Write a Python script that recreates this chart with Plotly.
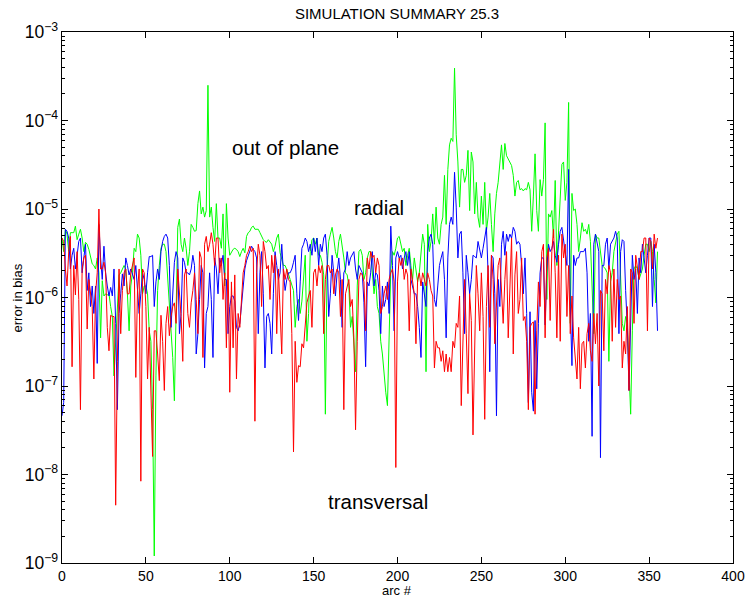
import math
import plotly.graph_objects as go

# arc numbers
arcs = list(range(356))

# radial error in bias (blue)
radial = [
    4.6e-8, 6.5e-8, 5.9e-6, 5.6e-6, 4.7e-6, 2.1e-6, 3.0e-6, 3.6e-6, 2.1e-6, 3.3e-6,
    4.3e-6, 4.7e-6, 1.9e-6, 2.8e-6, 4.0e-6, 1.2e-6, 1.9e-6, 7.9e-7, 1.35e-6, 6.6e-7,
    1.35e-6, 1.8e-7, 6.7e-6, 2.8e-6, 1.6e-6, 3.8e-6, 1.9e-6, 1.35e-6, 1.04e-6, 1.3e-6,
    1.04e-6, 2.1e-6, 5.1e-7, 5.4e-8, 6.6e-7, 1.1e-6, 1.85e-6, 1.35e-6, 2.8e-6, 2.3e-6,
    1.8e-6, 2.1e-6, 1.85e-6, 1.6e-6, 2.3e-6, 1.35e-6, 6.6e-7, 1.1e-6, 1.9e-6, 1.6e-6,
    1.1e-6, 1.9e-6, 2.9e-6, 2.9e-6, 3.0e-6, 7.9e-7, 1.5e-6, 2.1e-6, 1.6e-6, 3.3e-6,
    4.3e-6, 4.9e-6, 5.2e-6, 4.7e-6, 2.3e-6, 4.6e-7, 1.1e-6, 2.5e-6, 3.3e-6, 2.8e-6,
    3.9e-7, 6.6e-7, 2.8e-6, 2.5e-6, 1.9e-6, 1.9e-6, 1.8e-6, 2.1e-6, 3.0e-6, 2.3e-6,
    2.3e-7, 3.9e-7, 9.5e-7, 2.3e-6, 1.9e-6, 1.6e-7, 6.6e-7, 7.9e-7, 1.9e-6, 9.5e-7,
    2.1e-7, 2.8e-6, 2.1e-6, 1.1e-6, 2.8e-6, 2.3e-6, 3.0e-6, 1.6e-6, 1.6e-6, 3.9e-7,
    7.9e-7, 1.04e-6, 1.04e-6, 9.1e-7, 4.6e-7, 4.2e-7, 5.1e-7, 8.7e-7, 1.5e-6, 2.1e-6,
    2.6e-6, 3.0e-6, 3.5e-6, 3.8e-6, 3.5e-6, 3.3e-6, 2.8e-6, 3.9e-7, 1.9e-6, 3.3e-6,
    1.1e-6, 1.6e-7, 6.1e-7, 6.6e-7, 5.1e-7, 2.3e-7, 1.1e-6, 3.3e-6, 2.3e-6, 1.6e-6,
    1.9e-6, 4.0e-6, 1.9e-6, 1.2e-6, 1.6e-6, 1.9e-6, 1.9e-6, 2.1e-6, 2.5e-6, 3.0e-6,
    1.1e-6, 5.5e-7, 1.5e-6, 3.6e-6, 4.0e-6, 4.7e-6, 4.3e-6, 3.3e-6, 4.0e-6, 3.0e-6,
    4.7e-6, 3.3e-6, 4.7e-6, 2.3e-6, 4.0e-6, 3.3e-6, 4.7e-6, 5.2e-6, 3.0e-6, 6.1e-7,
    1.1e-6, 3.0e-6, 1.9e-6, 1.04e-6, 1.9e-6, 2.8e-6, 1.6e-6, 4.6e-7, 1.9e-6, 2.1e-6,
    3.3e-6, 2.3e-6, 2.8e-6, 3.0e-6, 3.3e-6, 2.1e-6, 1.6e-6, 2.3e-6, 2.1e-6, 1.9e-6,
    8.7e-7, 1.65e-7, 1.5e-6, 1.35e-6, 1.9e-6, 3.3e-6, 1.35e-6, 1.9e-6, 1.8e-6, 1.2e-6,
    3.9e-7, 1.35e-6, 7.9e-7, 9.5e-7, 1.5e-6, 6.6e-7, 6.4e-6, 2.3e-6, 4.2e-7, 2.8e-6,
    3.3e-6, 2.8e-6, 3.0e-6, 2.1e-6, 2.8e-6, 3.3e-6, 2.3e-6, 3.3e-6, 1.6e-6, 1.35e-6,
    1.1e-6, 1.1e-6, 7.9e-7, 4.6e-7, 2.1e-7, 1.5e-6, 1.04e-6, 7.9e-7, 3.3e-6, 4.7e-6,
    5.2e-6, 4.0e-6, 9.5e-7, 7.9e-7, 1.35e-6, 2.3e-6, 2.8e-6, 3.3e-6, 1.6e-6, 3.5e-7,
    2.8e-6, 6.7e-6, 8.1e-6, 6.7e-6, 2.6e-5, 1.05e-5, 2.8e-6, 5.2e-6, 5.6e-6, 1.9e-6,
    3.9e-7, 3.0e-6, 1.9e-6, 1.1e-6, 1.6e-6, 3.0e-6, 2.9e-6, 2.8e-6, 4.3e-6, 3.3e-6,
    2.8e-6, 3.6e-6, 4.7e-6, 6.2e-6, 1.9e-6, 1.45e-7, 3.0e-6, 2.8e-6, 1.1e-6, 4.6e-8,
    1.6e-6, 7.9e-7, 4.0e-6, 5.6e-6, 3.0e-6, 5.2e-6, 4.3e-6, 5.2e-6, 4.7e-6, 6.2e-6,
    5.6e-6, 4.0e-6, 4.3e-6, 4.0e-6, 2.3e-6, 1.1e-6, 2.8e-6, 6.6e-7, 6.5e-8, 6.9e-7,
    8.5e-8, 5.2e-8, 5.5e-7, 9.3e-8, 5.1e-7, 1.9e-6, 2.8e-6, 2.8e-6, 4.9e-7, 2.1e-6,
    4.0e-6, 3.3e-6, 3.6e-6, 4.3e-6, 3.0e-6, 2.5e-6, 4.0e-6, 5.6e-6, 6.2e-6, 4.3e-6,
    3.3e-6, 2.3e-6, 2.8e-5, 7.9e-7, 1.7e-7, 3.0e-6, 2.3e-6, 2.8e-6, 2.8e-6, 3.3e-6,
    3.3e-6, 3.3e-6, 3.6e-6, 1.9e-6, 3.2e-7, 6.6e-7, 2.7e-8, 4.0e-6, 5.2e-6, 4.0e-6,
    3.3e-6, 1.55e-8, 2.3e-6, 2.3e-6, 4.0e-6, 4.7e-6, 2.1e-6, 4.0e-6, 4.3e-6, 4.7e-6,
    5.6e-6, 4.7e-6, 3.9e-7, 3.3e-6, 4.5e-6, 4.3e-6, 1.2e-6, 4.6e-7, 8.9e-8, 5.1e-7,
    3.0e-6, 1.6e-6, 2.1e-6, 6.6e-7, 2.8e-6, 1.9e-6, 4.0e-6, 2.8e-6, 1.9e-6, 3.0e-6,
    4.7e-6, 4.7e-6, 7.9e-7, 4.0e-6, 1.9e-6, 4.2e-7,
]

# out of plane error in bias (green)
out_of_plane = [
    4.7e-6, 3.3e-6, 5.9e-6, 5.2e-6, 3.3e-6, 5.4e-6, 5.4e-6, 5.4e-6, 6.4e-6, 4.5e-6,
    5.2e-6, 5.9e-6, 4.7e-6, 3.3e-6, 4.2e-6, 4.0e-6, 3.5e-6, 3.0e-6, 2.4e-6, 2.3e-6,
    2.1e-6, 2.8e-6, 1.9e-6, 3.5e-7, 1.55e-6, 1.04e-6, 1.1e-6, 1.07e-6, 1.1e-6, 7.9e-7,
    6.1e-7, 1.3e-7, 3.2e-7, 9.5e-7, 1.8e-6, 1.9e-6, 2.1e-6, 2.3e-6, 2.1e-6, 1.1e-6,
    4.2e-7, 1.35e-6, 1.9e-6, 3.6e-6, 3.3e-6, 5.2e-6, 4.7e-6, 3.0e-6, 1.1e-6, 1.35e-6,
    1.35e-6, 1.1e-6, 4.2e-7, 3.2e-7, 5.4e-8, 1.2e-9, 1.3e-7, 1.2e-6, 2.3e-6, 3.6e-6,
    4.0e-6, 4.0e-6, 3.3e-6, 1.6e-6, 8.7e-7, 3.9e-7, 2.1e-7, 6.8e-8, 7.9e-7, 6.2e-6,
    7.7e-6, 4.0e-6, 3.3e-6, 4.7e-6, 3.6e-6, 2.3e-6, 3.3e-6, 6.7e-6, 6.2e-6, 5.6e-6,
    5.7e-6, 1.15e-5, 1.6e-5, 8.8e-6, 1.05e-5, 8.1e-6, 9.6e-6, 2.5e-4, 8.1e-6, 1.05e-5,
    6.2e-6, 4.3e-6, 1.15e-5, 4.7e-6, 4.7e-6, 3.6e-6, 8.8e-6, 1.35e-6, 1.15e-5, 4.7e-6,
    3.0e-6, 3.3e-6, 3.5e-6, 3.6e-6, 3.5e-6, 3.3e-6, 2.9e-6, 3.3e-6, 3.6e-6, 3.2e-6,
    4.9e-6, 5.4e-6, 5.6e-6, 6.2e-6, 6.4e-6, 5.9e-6, 5.9e-6, 5.9e-6, 5.4e-6, 4.9e-6,
    4.5e-6, 4.3e-6, 4.2e-6, 4.5e-6, 4.3e-6, 4.0e-6, 3.3e-6, 3.8e-6, 4.7e-6, 5.2e-6,
    3.2e-6, 2.6e-6, 2.3e-6, 2.3e-6, 2.1e-6, 1.85e-6, 1.6e-6, 1.4e-6, 1.2e-6, 4.6e-7,
    7.9e-7, 9.5e-7, 6.6e-7, 9.1e-7, 1.5e-6, 3.0e-6, 3.2e-7, 6.6e-7, 3.3e-6, 4.5e-6,
    4.7e-6, 4.0e-6, 4.7e-6, 3.0e-6, 3.0e-6, 2.5e-6, 1.8e-6, 4.8e-8, 2.1e-6, 4.3e-6,
    5.2e-6, 6.2e-6, 4.7e-6, 3.3e-6, 2.8e-6, 4.3e-6, 5.2e-6, 4.0e-6, 2.8e-6, 1.9e-6,
    1.8e-6, 1.35e-6, 4.6e-7, 6.1e-7, 2.7e-7, 1.45e-7, 1.35e-6, 3.3e-6, 3.5e-6, 3.0e-6,
    1.6e-6, 1.9e-6, 2.8e-6, 3.3e-6, 3.3e-6, 2.1e-6, 1.1e-6, 1.6e-6, 7.9e-7, 6.6e-7,
    3.2e-7, 2.3e-7, 1.3e-7, 8.5e-8, 6.0e-8, 3.2e-7, 2.1e-6, 3.3e-6, 3.0e-6, 3.6e-6,
    4.7e-6, 4.9e-6, 4.0e-6, 3.3e-6, 3.6e-6, 2.3e-6, 3.0e-6, 3.6e-6, 2.3e-6, 1.6e-6,
    2.8e-6, 2.1e-6, 1.5e-6, 1.9e-6, 3.3e-6, 5.2e-6, 4.0e-6, 1.45e-7, 6.7e-6, 3.3e-6,
    4.3e-6, 8.8e-6, 4.0e-6, 1.05e-5, 4.7e-6, 4.0e-6, 6.7e-6, 8.1e-6, 2.4e-5, 6.7e-6,
    2.8e-5, 5.3e-5, 6.3e-5, 5.8e-5, 3.9e-4, 6.9e-5, 3.4e-5, 1.05e-5, 2.8e-5, 2.8e-5,
    2.0e-5, 2.4e-5, 4.6e-5, 9.6e-6, 4.4e-5, 3.4e-5, 8.8e-6, 2.0e-5, 8.1e-6, 6.2e-6,
    1.4e-5, 6.7e-6, 2.0e-5, 5.6e-6, 8.1e-6, 1.5e-5, 6.7e-6, 3.3e-6, 8.8e-6, 1.5e-5,
    2.0e-5, 3.4e-5, 5.3e-5, 2.8e-5, 5.5e-5, 4.0e-5, 3.7e-5, 3.4e-5, 3.1e-5, 2.4e-5,
    1.4e-5, 2.0e-5, 2.1e-5, 1.65e-5, 1.7e-5, 1.6e-5, 1.7e-5, 1.65e-5, 2.0e-5, 1.65e-5,
    5.6e-6, 1.4e-5, 4.2e-5, 9.6e-6, 5.6e-6, 2.15e-5, 1.4e-5, 2.15e-5, 9.4e-5, 9.5e-7,
    8.8e-6, 8.1e-6, 9.6e-6, 4.7e-6, 2.1e-5, 2.3e-6, 5.6e-6, 1.15e-5, 3.2e-5, 3.4e-5,
    1.25e-5, 2.0e-5, 1.6e-4, 5.1e-7, 1.5e-5, 9.6e-6, 1.0e-5, 6.7e-6, 3.3e-6, 4.7e-6,
    7.0e-6, 5.6e-6, 5.9e-6, 5.2e-6, 6.7e-6, 4.3e-6, 1.1e-6, 3.9e-7, 5.2e-6, 4.7e-6,
    4.7e-6, 3.3e-6, 2.3e-6, 2.2e-6, 2.1e-6, 1.9e-6, 1.9e-7, 1.5e-6, 1.9e-6, 3.3e-6,
    4.3e-6, 5.2e-6, 5.6e-6, 1.9e-6, 5.1e-7, 4.2e-7, 6.1e-7, 5.1e-7, 1.3e-7, 4.8e-8,
    4.2e-7, 2.1e-6, 2.3e-6, 2.1e-6, 1.6e-6, 1.9e-6, 2.1e-6, 3.0e-6, 4.0e-6, 4.0e-6,
    3.3e-6, 4.3e-6, 3.3e-6, 1.6e-6, 8.7e-7, 3.3e-6,
]

# transversal error in bias (red)
transversal = [
    4.7e-6, 4.3e-6, 2.1e-6, 1.35e-6, 3.3e-6, 4.9e-6, 1.65e-7, 2.3e-6, 1.07e-6, 3.3e-6,
    9.5e-7, 5.4e-8, 2.1e-6, 2.8e-6, 3.0e-6, 4.4e-7, 1.6e-6, 1.1e-6, 7.9e-7, 1.2e-7,
    1.1e-6, 1.9e-6, 1.0e-5, 2.1e-6, 2.1e-6, 2.5e-6, 1.9e-6, 4.6e-7, 2.5e-7, 6.3e-7,
    6.1e-7, 6.1e-7, 4.5e-9, 1.9e-7, 2.1e-6, 3.9e-7, 1.2e-6, 1.9e-6, 2.1e-6, 1.1e-6,
    1.1e-6, 1.9e-6, 2.3e-6, 2.8e-6, 1.25e-7, 1.2e-6, 2.1e-6, 8.4e-9, 2.1e-6, 1.9e-6,
    7.9e-7, 1.2e-7, 4.6e-7, 5.4e-8, 1.6e-8, 4.2e-7, 4.2e-7, 2.3e-7, 1.15e-7, 6.3e-7,
    3.2e-7, 8.9e-8, 5.1e-7, 7.9e-7, 3.7e-7, 6.1e-7, 7.9e-7, 8.7e-7, 5.1e-7, 2.1e-6,
    1.1e-6, 6.1e-7, 1.9e-7, 1.8e-6, 2.1e-6, 6.6e-7, 4.6e-7, 8.7e-7, 1.2e-6, 1.9e-6,
    9.5e-7, 3.9e-7, 3.3e-6, 2.8e-6, 2.1e-7, 4.0e-6, 4.9e-6, 3.3e-6, 4.0e-6, 5.4e-6,
    4.0e-6, 2.3e-6, 4.7e-6, 4.7e-6, 1.9e-6, 2.8e-6, 9.5e-7, 1.9e-6, 2.7e-7, 2.8e-6,
    8.5e-8, 1.5e-6, 2.7e-7, 1.8e-6, 1.2e-7, 6.6e-7, 4.6e-7, 1.1e-6, 1.9e-6, 2.3e-6,
    3.0e-6, 3.3e-6, 3.8e-6, 3.3e-6, 3.6e-6, 4.0e-8, 1.9e-6, 4.0e-6, 3.0e-6, 7.9e-7,
    4.3e-6, 3.3e-6, 2.1e-6, 2.3e-6, 9.5e-7, 3.0e-6, 1.9e-6, 3.0e-6, 3.9e-7, 2.1e-6,
    7.9e-7, 2.3e-7, 2.1e-6, 1.6e-6, 2.1e-6, 1.6e-6, 1.5e-6, 3.9e-7, 1.8e-8, 3.2e-7,
    1.1e-7, 1.7e-7, 1.65e-7, 3.0e-7, 2.7e-7, 5.1e-7, 8.7e-7, 1.04e-6, 1.2e-6, 4.6e-7,
    1.9e-6, 2.1e-6, 1.35e-6, 2.3e-6, 1.9e-6, 2.3e-6, 3.9e-7, 1.6e-6, 2.3e-6, 2.3e-6,
    1.9e-6, 2.1e-6, 1.1e-6, 1.8e-6, 2.1e-6, 1.9e-6, 6.1e-7, 1.6e-6, 5.4e-8, 1.1e-6,
    1.35e-6, 1.6e-6, 7.9e-7, 9.5e-7, 3.5e-7, 3.2e-8, 3.2e-7, 1.6e-6, 1.9e-6, 1.8e-6,
    1.5e-6, 4.2e-7, 2.8e-6, 2.1e-6, 3.3e-6, 2.8e-6, 3.0e-6, 1.9e-6, 2.8e-6, 2.3e-6,
    6.6e-7, 7.9e-7, 1.1e-6, 1.35e-6, 9.5e-7, 1.6e-6, 1.9e-6, 2.1e-6, 1.5e-6, 1.2e-8,
    1.5e-6, 2.8e-6, 2.3e-6, 2.8e-6, 1.6e-6, 2.1e-6, 1.8e-6, 4.2e-7, 2.1e-6, 1.6e-6,
    1.1e-6, 3.0e-7, 1.6e-6, 1.9e-6, 1.35e-6, 1.9e-6, 1.6e-6, 1.35e-6, 1.9e-6, 1.6e-6,
    1.2e-6, 1.04e-6, 1.6e-7, 3.2e-7, 2.7e-7, 2.7e-7, 1.9e-7, 2.5e-7, 1.45e-7, 2.3e-7,
    1.45e-7, 2.1e-7, 1.45e-7, 3.2e-7, 2.7e-7, 5.1e-7, 4.6e-7, 1.04e-6, 6.0e-8, 3.9e-7,
    1.6e-6, 3.9e-7, 8.2e-8, 1.1e-6, 5.5e-7, 2.8e-8, 3.9e-7, 2.3e-6, 1.1e-6, 4.2e-7,
    1.9e-6, 6.1e-7, 4.2e-8, 7.9e-7, 2.3e-6, 4.6e-7, 3.0e-6, 1.6e-6, 3.0e-7, 7.9e-7,
    2.3e-6, 2.8e-6, 1.2e-6, 5.1e-7, 1.6e-6, 3.3e-6, 3.5e-7, 1.35e-6, 4.7e-6, 2.3e-7,
    1.8e-6, 3.3e-6, 6.6e-7, 9.5e-7, 2.8e-6, 5.5e-7, 6.1e-7, 3.2e-7, 5.4e-8, 4.6e-7,
    5.1e-7, 5.3e-7, 4.8e-8, 4.2e-7, 1.5e-6, 7.9e-7, 3.3e-6, 4.0e-6, 3.5e-7, 2.8e-6,
    3.6e-6, 5.5e-7, 3.3e-6, 5.9e-6, 1.9e-6, 3.5e-7, 3.0e-6, 3.2e-7, 5.2e-6, 2.8e-6,
    4.0e-6, 6.1e-7, 2.3e-6, 3.9e-7, 1.04e-6, 3.5e-7, 1.9e-7, 1.2e-7, 4.6e-7, 9.3e-8,
    3.0e-7, 3.2e-7, 1.6e-7, 3.9e-7, 5.1e-7, 2.5e-7, 1.9e-7, 6.6e-7, 3.0e-7, 6.6e-7,
    1.0e-7, 1.2e-6, 1.1e-6, 2.5e-7, 1.6e-6, 1.1e-6, 2.3e-6, 1.9e-6, 3.2e-7, 2.1e-6,
    4.6e-7, 1.6e-6, 9.5e-7, 1.04e-6, 1.6e-7, 3.2e-7, 2.3e-7, 7.9e-7, 8.9e-8, 2.1e-6,
    1.9e-6, 5.1e-7, 3.0e-6, 2.3e-6, 1.6e-6, 3.3e-6, 3.3e-6, 4.7e-6, 4.7e-6, 4.2e-7,
    4.7e-6, 4.3e-6, 2.1e-6, 5.2e-6, 3.6e-6, 4.7e-6,
]

# x tick values and label annotations
x_ticks = [0, 50, 100, 150, 200, 250, 300, 350, 400]
labels = ["out of plane", "radial", "transversal"]
label_x = [133.5, 189, 188.4]
label_y = [4.9e-5, 1.03e-5, 4.9e-9]

FONT = "Liberation Sans, Arial, Helvetica, sans-serif"

fig = go.Figure()
for name, series, color in [
    ("out of plane", out_of_plane, "#00ff00"),
    ("radial", radial, "#0000ff"),
    ("transversal", transversal, "#ff0000"),
]:
    fig.add_trace(go.Scatter(
        x=arcs[:len(series)], y=series, mode="lines", name=name,
        line=dict(color=color, width=1), showlegend=False,
    ))

for t, xv, yv in zip(labels, label_x, label_y):
    fig.add_annotation(x=xv, y=math.log10(yv), xref="x", yref="y", text=t,
                       showarrow=False, xanchor="center", yanchor="middle",
                       font=dict(family=FONT, size=20.5, color="black"))

fig.add_annotation(x=-0.0656, y=0.5, xref="paper", yref="paper", text="error in bias",
                   textangle=-90, showarrow=False, xanchor="center", yanchor="middle",
                   font=dict(family=FONT, size=13, color="black"))
fig.add_annotation(x=0.4993, y=-0.0527, xref="paper", yref="paper", text="arc #",
                   showarrow=False, xanchor="center", yanchor="middle",
                   font=dict(family=FONT, size=13, color="black"))

fig.update_layout(
    width=747, height=605,
    margin=dict(l=62, r=14, t=32, b=42, autoexpand=False),
    paper_bgcolor="white", plot_bgcolor="white",
    title=dict(text="SIMULATION SUMMARY 25.3", x=397 / 747, xref="container",
               xanchor="center", y=1 - 14 / 605, yref="container", yanchor="middle",
               font=dict(family=FONT, size=15, color="black")),
    font=dict(family=FONT, size=14, color="black"),
    xaxis=dict(range=[0, 400], tickvals=x_ticks, ticks="inside", ticklen=6,
               tickcolor="black", showline=True, linecolor="black", linewidth=1,
               mirror="allticks", showgrid=False, zeroline=False,
               tickfont=dict(family=FONT, size=14, color="black")),
    yaxis=dict(type="log", range=[-9, -3], dtick=1, exponentformat="power",
               showexponent="all", ticks="inside", ticklen=6, tickcolor="black",
               showline=True, linecolor="black", linewidth=1, mirror="allticks",
               showgrid=False, zeroline=False,
               minor=dict(ticks="inside", ticklen=3, tickcolor="black", dtick="D1",
                          showgrid=False),
               tickfont=dict(family=FONT, size=14, color="black")),
)

fig.write_html("out.html")
